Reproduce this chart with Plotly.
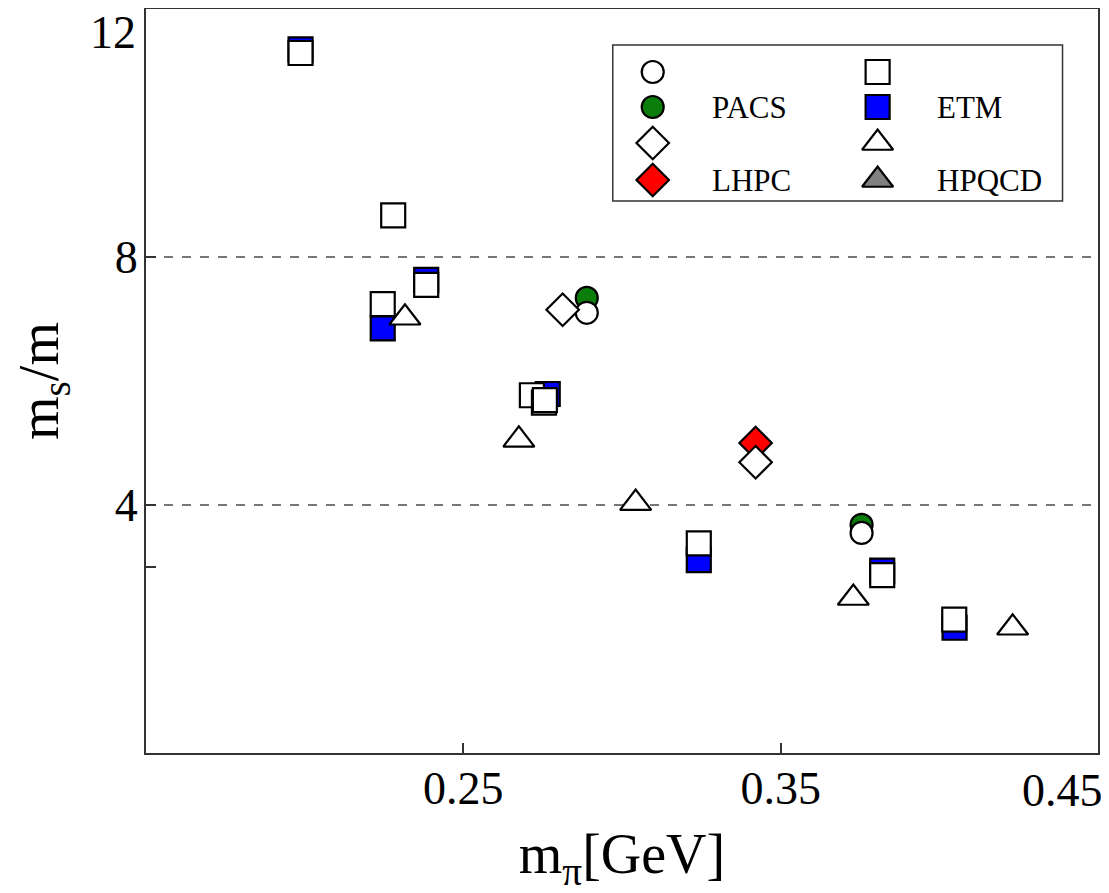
import plotly.graph_objects as go

# ---------------- data ----------------
open_sq_x = [0.1987, 0.2279, 0.2383, 0.2246, 0.2716, 0.2754, 0.2757, 0.3242, 0.3820, 0.4047]
open_sq_y = [11.29, 8.67, 7.55, 7.24, 5.77, 5.65, 5.69, 3.38, 2.87, 2.15]

etm_x = [0.1987, 0.2383, 0.2246, 0.2766, 0.3242, 0.3820, 0.4048]
etm_y = [11.35, 7.63, 6.85, 5.79, 3.11, 2.94, 2.02]

open_circ_x = [0.2889, 0.3755]
open_circ_y = [7.10, 3.55]

pacs_x = [0.2889, 0.3755]
pacs_y = [7.34, 3.68]

open_dia_x = [0.2813, 0.3421]
open_dia_y = [7.15, 4.69]

lhpc_x = [0.3421]
lhpc_y = [5.00]

open_tri_x = [0.2316, 0.2675, 0.3043, 0.3729, 0.4231]
open_tri_y = [7.02, 5.05, 4.03, 2.50, 2.02]

hpqcd_x = []
hpqcd_y = []

x_ticks = [0.25, 0.35, 0.45]
x_tick_text = ["0.25", "0.35", "0.45"]
y_ticks = [4, 8, 12]
y_tick_text = ["4", "8", "12"]
y_minor_ticks = [3]

legend_labels = ["", "PACS", "", "LHPC", "", "ETM", "", "HPQCD"]

# ---------------- styling ----------------
FONT = "Liberation Serif"
PAGE_OFF = 8                       # default body margin of the html page
W, H = 1109 - PAGE_OFF, 893 - PAGE_OFF
PLOT_L, PLOT_R, PLOT_T, PLOT_B = 146, 1098.5, 9, 753   # plot box on the page
L = PLOT_L - PAGE_OFF
R = W - (PLOT_R - PAGE_OFF)
T = PLOT_T - PAGE_OFF
B = H - (PLOT_B - PAGE_OFF)
LW = 2.2
AX = "#333333"
GREEN = "#0b7d0b"
BLUE = "#0000ff"
RED = "#ff0000"
GRAY = "#808080"
TICK_SIZE = 46

SQ, CI, DI, TR = 24, 22, 25, 27


def px_to_paper_x(px):
    return (px - PLOT_L) / (PLOT_R - PLOT_L)


def px_to_paper_y(py):
    return (PLOT_B - py) / (PLOT_B - PLOT_T)


fig = go.Figure()

def add(x, y, symbol, size, fill, name):
    fig.add_trace(go.Scatter(
        x=x, y=y, mode="markers", name=name, showlegend=False,
        marker=dict(symbol=symbol, size=size, color=fill,
                    line=dict(color="black", width=LW)),
        xaxis="x", yaxis="y"))

# filled series first (drawn underneath), open series on top
add(etm_x, etm_y, "square", SQ, BLUE, "ETM")
add(pacs_x, pacs_y, "circle", CI, GREEN, "PACS")
add(lhpc_x, lhpc_y, "diamond", DI, RED, "LHPC")
add(hpqcd_x, hpqcd_y, "triangle-up", TR, GRAY, "HPQCD")
add(open_sq_x, open_sq_y, "square", SQ, "white", "open square")
add(open_circ_x, open_circ_y, "circle", CI, "white", "open circle")
add(open_dia_x, open_dia_y, "diamond", DI, "white", "open diamond")
add(open_tri_x, open_tri_y, "triangle-up", TR, "white", "open triangle")

# ---------------- hand-drawn legend (overlay axes in page-pixel units) ----------------
leg_box = dict(x0=613, x1=1063, y0=45, y1=201)
col_sym_x = [653, 878]
col_txt_x = [710, 935]
row_y = [72, 107, 143, 180]
leg_symbols = [("circle", CI, "white"), ("circle", CI, GREEN),
               ("diamond", DI, "white"), ("diamond", DI, RED),
               ("square", SQ, "white"), ("square", SQ, BLUE),
               ("triangle-up", TR, "white"), ("triangle-up", TR, GRAY)]

fig.add_shape(type="rect", xref="x2", yref="y2",
              x0=leg_box["x0"], x1=leg_box["x1"], y0=leg_box["y0"], y1=leg_box["y1"],
              line=dict(color=AX, width=1.5), fillcolor="rgba(0,0,0,0)", layer="above")

for i, (sym, size, fill) in enumerate(leg_symbols):
    col, row = divmod(i, 4)
    fig.add_trace(go.Scatter(
        x=[col_sym_x[col]], y=[row_y[row]], mode="markers", showlegend=False,
        marker=dict(symbol=sym, size=size, color=fill, line=dict(color="black", width=LW)),
        xaxis="x2", yaxis="y2", hoverinfo="skip"))
    if legend_labels[i]:
        fig.add_annotation(x=col_txt_x[col], y=row_y[row], xref="x2", yref="y2",
                           text=legend_labels[i], showarrow=False, xanchor="left",
                           yanchor="middle", font=dict(family=FONT, size=31, color="black"))

# edge tick labels are nudged inside the page (as in the reference)
shown_x_text = [t if v != x_ticks[-1] else "" for v, t in zip(x_ticks, x_tick_text)]
shown_y_text = [t if v != y_ticks[-1] else "" for v, t in zip(y_ticks, y_tick_text)]
fig.add_annotation(x=px_to_paper_x(1106), y=px_to_paper_y(790), xref="paper", yref="paper",
                   text=x_tick_text[-1], showarrow=False, xanchor="right", yanchor="middle",
                   font=dict(family=FONT, size=TICK_SIZE, color="black"))
fig.add_annotation(x=px_to_paper_x(138), y=px_to_paper_y(33), xref="paper", yref="paper",
                   text=y_tick_text[-1], showarrow=False, xanchor="right", yanchor="middle",
                   font=dict(family=FONT, size=TICK_SIZE, color="black"))

fig.update_layout(
    width=W, height=H,
    margin=dict(l=L, r=R, t=T, b=B, autoexpand=False),
    paper_bgcolor="white", plot_bgcolor="white",
    showlegend=False,
    font=dict(family=FONT, color="black"),
    xaxis=dict(range=[0.15, 0.45], tickmode="array", tickvals=x_ticks, ticktext=shown_x_text,
               ticks="inside", ticklen=10, tickwidth=1.5, tickcolor=AX,
               showline=True, linecolor=AX, linewidth=2, mirror=True,
               showgrid=False, zeroline=False,
               tickfont=dict(family=FONT, size=TICK_SIZE, color="black"),
               ticklabelstandoff=-6,
               title=dict(text="m<sub>π</sub>[GeV]", font=dict(family=FONT, size=56, color="black"),
                          standoff=26),
               automargin=False),
    yaxis=dict(range=[0, 12], tickmode="array", tickvals=y_ticks, ticktext=shown_y_text,
               ticks="inside", ticklen=10, tickwidth=1.5, tickcolor=AX,
               minor=dict(tickmode="array", tickvals=y_minor_ticks, ticks="inside",
                          ticklen=10, tickwidth=1.5, tickcolor=AX, showgrid=False),
               showline=True, linecolor=AX, linewidth=2, mirror=True,
               showgrid=True, gridcolor="#777777", gridwidth=1.5, griddash="dash",
               zeroline=False,
               tickfont=dict(family=FONT, size=TICK_SIZE, color="black"),
               ticklabelstandoff=-3,
               title=dict(text="m<sub>s</sub>/m", font=dict(family=FONT, size=56, color="black"),
                          standoff=44),
               automargin=False),
    xaxis2=dict(domain=[0, 1], range=[PLOT_L, PLOT_R], overlaying="x", visible=False, fixedrange=True),
    yaxis2=dict(domain=[0, 1], range=[PLOT_B, PLOT_T], overlaying="y", visible=False, fixedrange=True),
)

fig.write_html("out.html")
